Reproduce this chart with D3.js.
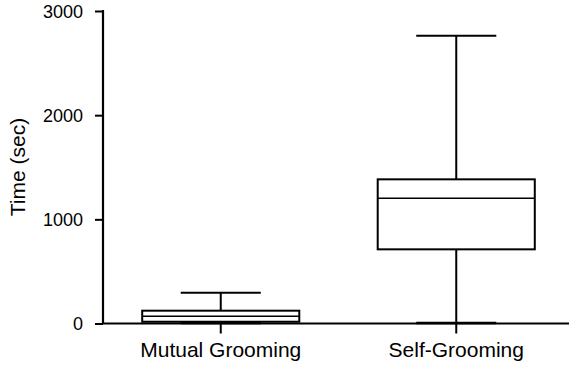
<!DOCTYPE html>
<html>
<head>
<meta charset="utf-8">
<script src="https://cdn.jsdelivr.net/npm/d3@7"></script>
<style>
  html, body { margin: 0; padding: 0; background: #fff; }
  svg text { font-family: "Liberation Sans", Arial, Helvetica, sans-serif; fill: #000; }
</style>
</head>
<body>
<svg id="chart" width="569" height="365"></svg>
<script>
// Data
const categories = ["Mutual Grooming", "Self-Grooming"];
const minValues    = [5, 5];
const q1Values     = [17, 712];
const medianValues = [69, 1202];
const q3Values     = [123, 1384];
const maxValues    = [296, 2762];
const yTicks = [0, 1000, 2000, 3000];
const yLabel = "Time (sec)";

const svg = d3.select("#chart");
const mLeft = 103, mRight = 574, mTop = 11, mBottom = 323.5;

const x = d3.scaleBand().domain(categories).range([mLeft, mRight]).padding(0);
const y = d3.scaleLinear().domain([0, 3000]).range([mBottom, mTop]);

const boxW = x.bandwidth() * 0.667;
const capW = x.bandwidth() * 0.34;

const data = categories.map((c, i) => ({
  cat: c, min: minValues[i], q1: q1Values[i], med: medianValues[i], q3: q3Values[i], max: maxValues[i]
}));

const g = svg.append("g");
const groups = g.selectAll("g.box").data(data).enter().append("g").attr("class", "box");
const cx = d => x(d.cat) + x.bandwidth() / 2;

// whiskers
groups.append("line")
  .attr("x1", cx).attr("x2", cx)
  .attr("y1", d => y(d.max)).attr("y2", d => y(d.q3))
  .attr("stroke", "#000").attr("stroke-width", 2);
groups.append("line")
  .attr("x1", cx).attr("x2", cx)
  .attr("y1", d => y(d.q1)).attr("y2", d => y(d.min))
  .attr("stroke", "#000").attr("stroke-width", 2);
// caps
groups.append("line")
  .attr("x1", d => cx(d) - capW / 2).attr("x2", d => cx(d) + capW / 2)
  .attr("y1", d => y(d.max)).attr("y2", d => y(d.max))
  .attr("stroke", "#000").attr("stroke-width", 2);
groups.append("line")
  .attr("x1", d => cx(d) - capW / 2).attr("x2", d => cx(d) + capW / 2)
  .attr("y1", d => y(d.min)).attr("y2", d => y(d.min))
  .attr("stroke", "#000").attr("stroke-width", 2.5);
// box
groups.append("rect")
  .attr("x", d => cx(d) - boxW / 2).attr("width", boxW)
  .attr("y", d => y(d.q3)).attr("height", d => y(d.q1) - y(d.q3))
  .attr("fill", "#fff").attr("stroke", "#000").attr("stroke-width", 2);
// median
groups.append("line")
  .attr("x1", d => cx(d) - boxW / 2).attr("x2", d => cx(d) + boxW / 2)
  .attr("y1", d => y(d.med)).attr("y2", d => y(d.med))
  .attr("stroke", "#000").attr("stroke-width", 1.6);

// Y axis
const yAxis = d3.axisLeft(y).tickValues(yTicks).tickFormat(d3.format("d"))
  .tickSize(8).tickPadding(12).tickSizeOuter(0);
const ya = svg.append("g").attr("transform", `translate(${mLeft},0)`).call(yAxis);
ya.select(".domain").attr("stroke", "#000").attr("stroke-width", 2.2).attr("d", `M0,${mTop - 1}V${mBottom}`);
ya.selectAll(".tick line").attr("stroke", "#000").attr("stroke-width", 2);
ya.selectAll(".tick text").attr("font-size", 18).attr("font-family", "Liberation Sans, Arial, sans-serif").attr("dy", "0.34em");

// X axis
const xAxis = d3.axisBottom(x).tickSize(10).tickPadding(9).tickSizeOuter(0);
const xa = svg.append("g").attr("transform", `translate(0,${mBottom})`).call(xAxis);
xa.select(".domain").attr("stroke", "#000").attr("stroke-width", 2.2).attr("d", `M${mLeft - 1},0H569`);
xa.selectAll(".tick line").attr("stroke", "#000").attr("stroke-width", 2);
xa.selectAll(".tick text").attr("font-size", 21).attr("font-family", "Liberation Sans, Arial, sans-serif");

// Y label
svg.append("text")
  .attr("transform", `translate(25,167) rotate(-90)`)
  .attr("text-anchor", "middle")
  .attr("font-size", 21)
  .text(yLabel);
</script>
</body>
</html>
